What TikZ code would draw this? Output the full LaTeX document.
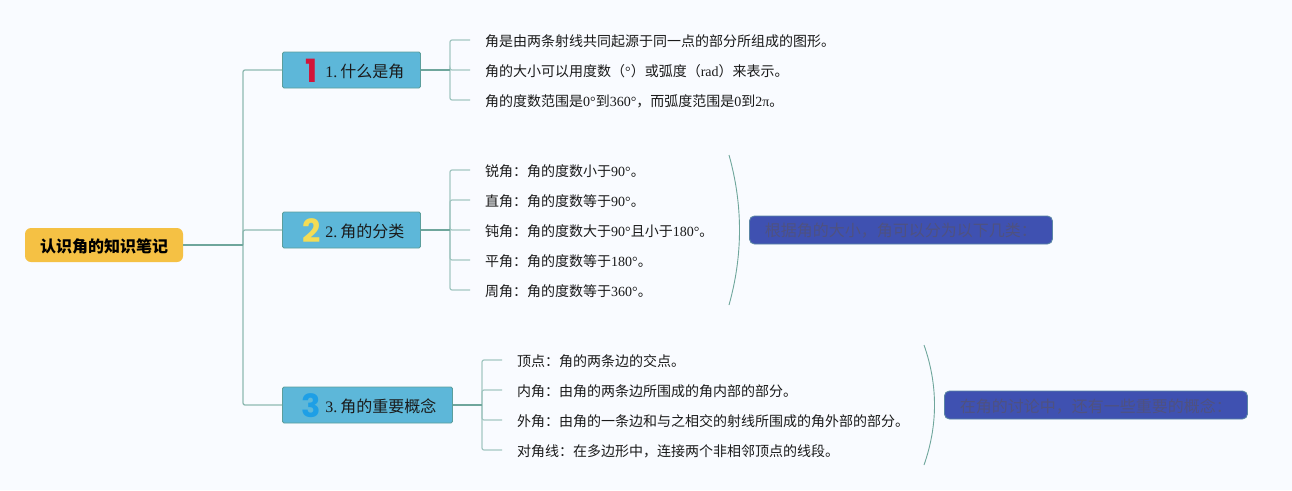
\documentclass[tikz,border=0pt]{standalone}
\usepackage{fontspec}
\setmainfont{Noto Sans CJK SC}
\newfontfamily\latf{Liberation Serif}
\newfontfamily\digf{Poppins}[UprightFont=* Bold]
\newcommand\La[1]{{\latf #1}}
\newcommand\Low[1]{\raisebox{-1pt}[\height][\depth]{#1}}
\newcommand\Dig[2]{\hspace*{20pt}\makebox[18pt][c]{\smash{\raisebox{-6pt}{\fontsize{32}{32}\digf\textcolor{#1}{#2}}}}\hspace{5pt}}
\definecolor{bgc}{HTML}{F9FBFF}
\definecolor{rootc}{HTML}{F5C144}
\definecolor{topicc}{HTML}{5DB7D9}
\definecolor{topicb}{HTML}{5B9E9C}
\definecolor{linec}{HTML}{A3C7C2}
\definecolor{lined}{HTML}{6FA69C}
\definecolor{linet}{HTML}{8FB9B2}
\definecolor{callc}{HTML}{3F51B1}
\definecolor{callb}{HTML}{5A85A5}
\definecolor{calltx}{HTML}{4F5280}
\definecolor{txt}{HTML}{1A1A1A}
\definecolor{oner}{HTML}{D2153A}
\definecolor{twoy}{HTML}{F3DC55}
\definecolor{threeb}{HTML}{1E9FE6}
\tikzset{
 x=1pt,y=-1pt,
 rootbox/.style={draw=none,fill=rootc,rounded corners=6pt,minimum width=158pt,minimum height=34pt,inner sep=0pt,font=\fontsize{16}{16}\selectfont\bfseries,text=black,anchor=center},
 topicbox/.style={draw=topicb,line width=0.9pt,fill=topicc,rounded corners=1.5pt,minimum height=36pt,inner sep=0pt,anchor=west,text=txt,font=\fontsize{16}{16}\selectfont,align=left},
 leaf/.style={anchor=west,inner xsep=15pt,inner ysep=0pt,text=txt,font=\fontsize{14}{14}\selectfont},
 callout/.style={draw=callb,line width=0.9pt,fill=callc,rounded corners=5pt,minimum width=303pt,minimum height=28pt,inner sep=0pt,anchor=west,text=calltx,font=\fontsize{16}{16}\selectfont},
 trunkroot/.style={draw=lined,line width=1.5pt},
 trunk/.style={draw=linet,line width=1.3pt,rounded corners=2pt},
 hublink/.style={draw=lined,line width=1.7pt},
 twig/.style={draw=linec,line width=1.2pt,rounded corners=2pt},
 brace/.style={draw=lined,line width=0.9pt},
}
\begin{document}
\begin{tikzpicture}
\useasboundingbox (0,0) rectangle (1292,490);
\fill[bgc] (0,0) rectangle (1292,490);
% hubs
\coordinate (h0) at (243,245);
\coordinate (h1) at (450,70);
\coordinate (h2) at (450,230);
\coordinate (h3) at (482,405);
% nodes
\node[rootbox] (root) at (104,245) {\Low{认识角的知识笔记}};
\node[topicbox,text width=138pt,minimum width=138pt] (t1) at (282,70) {\Dig{oner}{1}\Low{\La{1.}\hspace{3pt}什么是角}};
\node[topicbox,text width=138pt,minimum width=138pt] (t2) at (282,230) {\Dig{twoy}{2}\Low{\La{2.}\hspace{3pt}角的分类}};
\node[topicbox,text width=170pt,minimum width=170pt] (t3) at (282,405) {\Dig{threeb}{3}\Low{\La{3.}\hspace{3pt}角的重要概念}};
\node[leaf] (a1) at (470,40) {\Low{角是由两条射线共同起源于同一点的部分所组成的图形。}};
\node[leaf] (a2) at (470,70) {\Low{角的大小可以用度数（\La{°}）或弧度（\La{rad}）来表示。}};
\node[leaf] (a3) at (470,100) {\Low{角的度数范围是\La{0°}到\La{360°}，而弧度范围是\La{0}到\La{2π}。}};
\node[leaf] (b1) at (470,170) {\Low{锐角：角的度数小于\La{90°}。}};
\node[leaf] (b2) at (470,200) {\Low{直角：角的度数等于\La{90°}。}};
\node[leaf] (b3) at (470,230) {\Low{钝角：角的度数大于\La{90°}且小于\La{180°}。}};
\node[leaf] (b4) at (470,260) {\Low{平角：角的度数等于\La{180°}。}};
\node[leaf] (b5) at (470,290) {\Low{周角：角的度数等于\La{360°}。}};
\node[leaf] (c1) at (502,360) {\Low{顶点：角的两条边的交点。}};
\node[leaf] (c2) at (502,390) {\Low{内角：由角的两条边所围成的角内部的部分。}};
\node[leaf] (c3) at (502,420) {\Low{外角：由角的一条边和与之相交的射线所围成的角外部的部分。}};
\node[leaf] (c4) at (502,450) {\Low{对角线：在多边形中，连接两个非相邻顶点的线段。}};
\node[callout] (n2) at (749,230) {\Low{根据角的大小，角可以分为以下几类：}};
\node[callout] (n3) at (944,405) {\Low{在角的讨论中，还有一些重要的概念：}};
% connectors
\draw[trunk] (h0) |- (t1.west);
\draw[trunk] (h0) |- (t2.west);
\draw[trunk] (h0) |- (t3.west);
\draw[trunkroot] (root.east) -- (h0);
\foreach \l in {a1,a2,a3} \draw[twig] (h1) |- (\l.west);
\foreach \l in {b1,b2,b3,b4,b5} \draw[twig] (h2) |- (\l.west);
\foreach \l in {c1,c2,c3,c4} \draw[twig] (h3) |- (\l.west);
\draw[hublink] (t1.east) -- (h1);
\draw[hublink] (t2.east) -- (h2);
\draw[hublink] (t3.east) -- (h3);
% boundaries
\coordinate (s2) at (729,155); \coordinate (e2) at (729,305);
\coordinate (s3) at (924,345); \coordinate (e3) at (924,465);
\draw[brace] (s2) .. controls (743,205) and (743,255) .. (e2);
\draw[brace] (s3) .. controls (938,385) and (938,425) .. (e3);
\end{tikzpicture}
\end{document}
